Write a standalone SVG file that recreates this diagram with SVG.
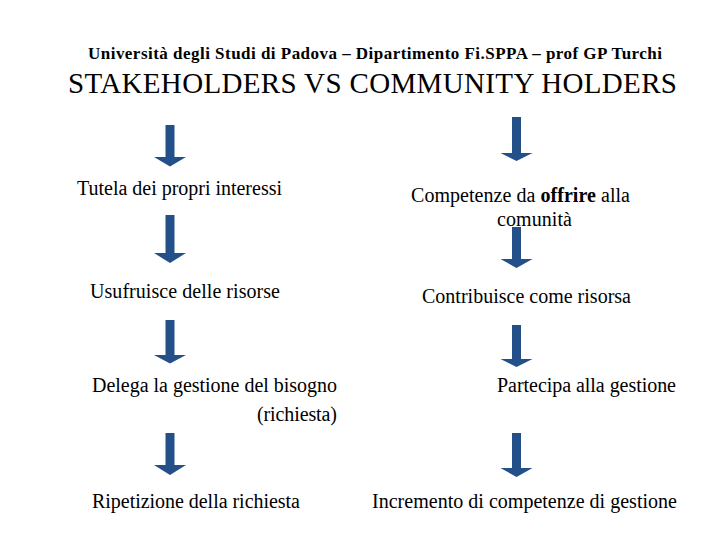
<svg xmlns="http://www.w3.org/2000/svg" width="720" height="540" viewBox="0 0 720 540">
<style>
.t{font-family:"Liberation Serif","Times New Roman",serif;fill:#000}
.h{font-size:17px;font-weight:bold}
.ti{font-size:29px}
.b{font-size:20px}
.ar{fill:#24508a}
</style>
<rect width="720" height="540" fill="#fff"/>
<text class="t h" x="88" y="59" textLength="574">Università degli Studi di Padova –  Dipartimento Fi.SPPA – prof GP Turchi</text>
<text class="t ti" x="68" y="93" textLength="609">STAKEHOLDERS VS COMMUNITY HOLDERS</text>
<g id="connectors">
<path class="ar" d="M165.5 125h9v32h11.5l-16 9.5l-16-9.5h11.5z"/>
<path class="ar" d="M165.5 215h9v38h11.5l-16 10l-16-10h11.5z"/>
<path class="ar" d="M165.5 320h9v35h11.5l-16 8.5l-16-8.5h11.5z"/>
<path class="ar" d="M165.5 433h9v32h11.5l-16 10l-16-10h11.5z"/>
<path class="ar" d="M512 117h9v36h11.5l-16 8l-16-8h11.5z"/>
<path class="ar" d="M512 227h9v32h11.5l-16 9l-16-9h11.5z"/>
<path class="ar" d="M512 325h9v34h11.5l-16 8l-16-8h11.5z"/>
<path class="ar" d="M512 433h9v35h11.5l-16 9l-16-9h11.5z"/>
</g>
<g id="n-tutela"><text class="t b" x="77" y="195" textLength="205">Tutela dei propri interessi</text></g>
<g id="n-usufruisce"><text class="t b" x="90" y="298" textLength="190">Usufruisce delle risorse</text></g>
<g id="n-delega"><text class="t b" x="92" y="392" textLength="245">Delega la gestione del bisogno</text><text class="t b" x="257" y="421" textLength="80">(richiesta)</text></g>
<g id="n-ripetizione"><text class="t b" x="92" y="508" textLength="208">Ripetizione della richiesta</text></g>
<g id="n-competenze"><text class="t b" x="411" y="202" textLength="219">Competenze da <tspan font-weight="bold">offrire</tspan> alla</text><text class="t b" x="497" y="226" textLength="75">comunità</text></g>
<g id="n-contribuisce"><text class="t b" x="422" y="303" textLength="209">Contribuisce come risorsa</text></g>
<g id="n-partecipa"><text class="t b" x="497" y="392" textLength="179">Partecipa alla gestione</text></g>
<g id="n-incremento"><text class="t b" x="372" y="508" textLength="305">Incremento di competenze di gestione</text></g>
</svg>
